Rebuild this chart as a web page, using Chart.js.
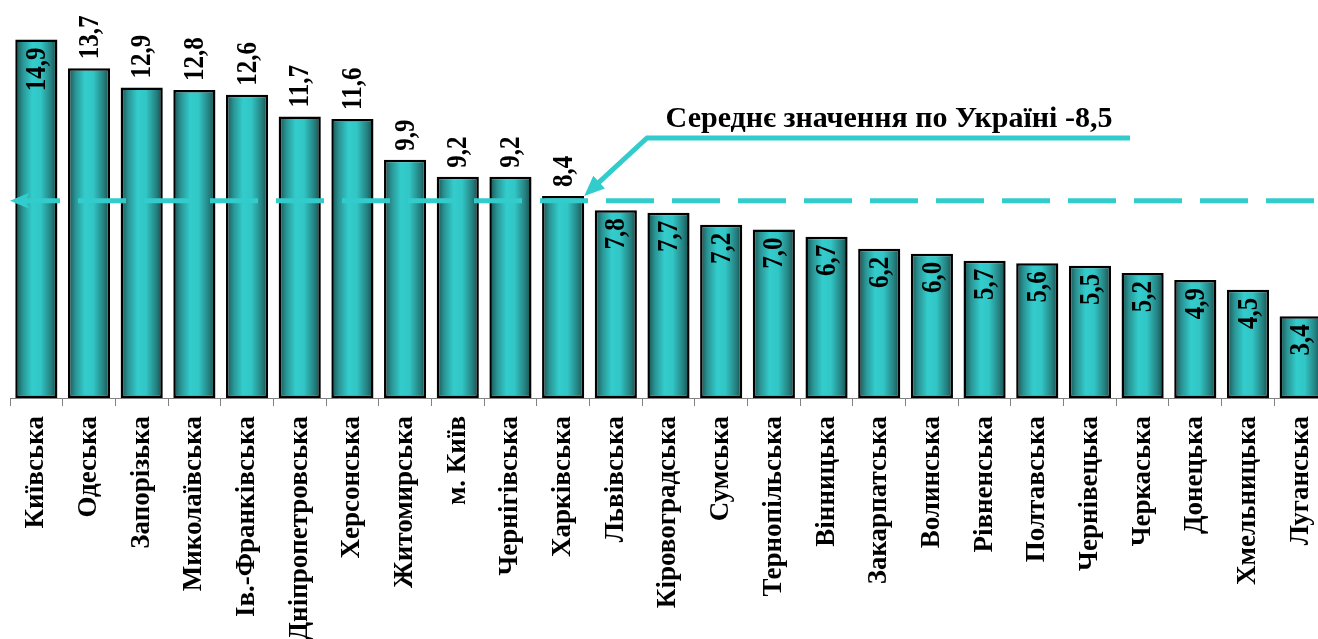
<!DOCTYPE html>
<html>
<head>
<meta charset="utf-8">
<script src="https://cdn.jsdelivr.net/npm/chart.js@4"></script>
<style>
  html, body { margin: 0; padding: 0; background: #fff; overflow: hidden; }
  #wrap { width: 1330px; height: 639px; position: relative; }
  canvas { display: block; }
</style>
</head>
<body>
<div id="wrap"><canvas id="myChart" width="1330" height="639"></canvas></div>
<script>
let regions = ['Київська', 'Одеська', 'Запорізька', 'Миколаївська', 'Ів.-Франківська',
    'Дніпропетровська', 'Херсонська', 'Житомирська', 'м. Київ', 'Чернігівська', 'Харківська',
    'Львівська', 'Кіровоградська', 'Сумська', 'Тернопільська', 'Вінницька', 'Закарпатська',
    'Волинська', 'Рівненська', 'Полтавська', 'Чернівецька', 'Черкаська', 'Донецька',
    'Хмельницька', 'Луганська'];
let values = [14.9, 13.7, 12.9, 12.8, 12.6, 11.7, 11.6, 9.9, 9.2, 9.2, 8.4,
    7.8, 7.7, 7.2, 7.0, 6.7, 6.2, 6.0, 5.7, 5.6, 5.5, 5.2, 4.9, 4.5, 3.4];
// which labels sit inside the bar top (the rest go above)
let insideLabel = [true, false, false, false, false, false, false, false, false, false, false,
    true, true, true, true, true, true, true, true, true, true, true, true, true, true];
let avgText = 'Середнє значення по Україні -8,5';
let avgLine = 8.2;      // where the dashed line sits in the picture
let arrowTo = 10;       // index of bar the callout arrow points to

const serif = "'Liberation Serif', 'Times New Roman', serif";
const teal = '#33cccc';

// cylinder like shading on each bar
const barShade = {
    id: 'barShade',
    beforeDatasetsDraw(chart) {
        let c = chart.ctx;
        chart.getDatasetMeta(0).data.forEach(el => {
            let l = el.x - el.width / 2, r = el.x + el.width / 2;
            let g = c.createLinearGradient(l, 0, r, 0);
            g.addColorStop(0, '#174f4f');
            g.addColorStop(0.18, '#2a9494');
            g.addColorStop(0.4, '#33cccc');
            g.addColorStop(0.6, '#32c6c6');
            g.addColorStop(0.85, '#24807f');
            g.addColorStop(1, '#164848');
            el.options = Object.assign({}, el.options, { backgroundColor: g });
        });
    }
};

const valueLabels = {
    id: 'valueLabels',
    afterDatasetsDraw(chart) {
        let c = chart.ctx;
        c.save();
        c.font = 'bold 25px ' + serif;
        c.fillStyle = '#000';
        c.textBaseline = 'middle';
        chart.getDatasetMeta(0).data.forEach((el, i) => {
            let txt = values[i].toFixed(1).replace('.', ',');
            c.save();
            c.translate(el.x + 1, el.y);
            c.rotate(-Math.PI / 2);
            c.scale(1, 1.18);
            if (insideLabel[i]) {
                c.textAlign = 'right';
                c.fillText(txt, -8, 0);
            } else {
                c.textAlign = 'left';
                c.fillText(txt, 9, 0);
            }
            c.restore();
        });
        c.restore();
    }
};

const avgCallout = {
    id: 'avgCallout',
    afterDraw(chart) {
        let c = chart.ctx;
        let y = chart.scales.y.getPixelForValue(avgLine);
        let left = chart.chartArea.left;
        c.save();
        c.strokeStyle = teal;
        c.fillStyle = teal;
        c.lineWidth = 5;
        c.setLineDash([48, 18]);
        c.lineDashOffset = 4;
        c.beginPath();
        c.moveTo(left + 6, y);
        c.lineTo(chart.width, y);
        c.stroke();
        c.setLineDash([]);
        // arrow head on the left end
        c.beginPath();
        c.moveTo(left, y);
        c.lineTo(left + 19, y - 8);
        c.lineTo(left + 16, y);
        c.lineTo(left + 19, y + 8);
        c.closePath();
        c.fill();

        // callout line to the bar
        let bar = chart.getDatasetMeta(0).data[arrowTo];
        let tx = bar.x + bar.width / 2, ty = bar.y;
        let bx = 647, by = 138;
        c.lineWidth = 5;
        c.beginPath();
        c.moveTo(1130, by);
        c.lineTo(bx, by);
        let ang = Math.atan2(ty - by, tx - bx);
        let ex = tx - Math.cos(ang) * 14, ey = ty - Math.sin(ang) * 14;
        c.lineTo(ex, ey);
        c.stroke();
        c.beginPath();
        c.moveTo(tx, ty);
        c.lineTo(tx - Math.cos(ang - 0.4) * 22, ty - Math.sin(ang - 0.4) * 22);
        c.lineTo(tx - Math.cos(ang + 0.4) * 22, ty - Math.sin(ang + 0.4) * 22);
        c.closePath();
        c.fill();

        c.fillStyle = '#000';
        c.font = 'bold 30px ' + serif;
        c.textAlign = 'center';
        c.textBaseline = 'alphabetic';
        c.fillText(avgText, 889, 127);
        c.restore();
    }
};

let myChart = document.getElementById('myChart').getContext('2d');

new Chart(myChart, {
    type: 'bar',
    data: {
        labels: regions,
        datasets: [{
            data: values,
            backgroundColor: teal,
            borderColor: '#000',
            borderWidth: 2.5,
            borderSkipped: false,
            barPercentage: 0.8,
            categoryPercentage: 1.0
        }]
    },
    options: {
        responsive: false,
        maintainAspectRatio: false,
        animation: false,
        devicePixelRatio: 1,
        layout: { padding: { left: 10, right: 3, top: 13, bottom: 0 } },
        plugins: {
            legend: { display: false },
            tooltip: { enabled: false }
        },
        scales: {
            y: { display: false, min: 0, max: 16 },
            x: {
                afterFit(scale) {
                    scale.height = 241;
                    scale.paddingLeft = 0;
                    scale.paddingRight = 0;
                },
                grid: { offset: true, drawOnChartArea: false, tickLength: 8, color: '#808080' },
                border: { color: '#808080', width: 1 },
                ticks: {
                    autoSkip: false,
                    maxRotation: 90,
                    minRotation: 90,
                    padding: 10,
                    color: '#000',
                    font: { family: serif, size: 27, weight: 'bold' }
                }
            }
        }
    },
    plugins: [barShade, valueLabels, avgCallout]
});
</script>
</body>
</html>
